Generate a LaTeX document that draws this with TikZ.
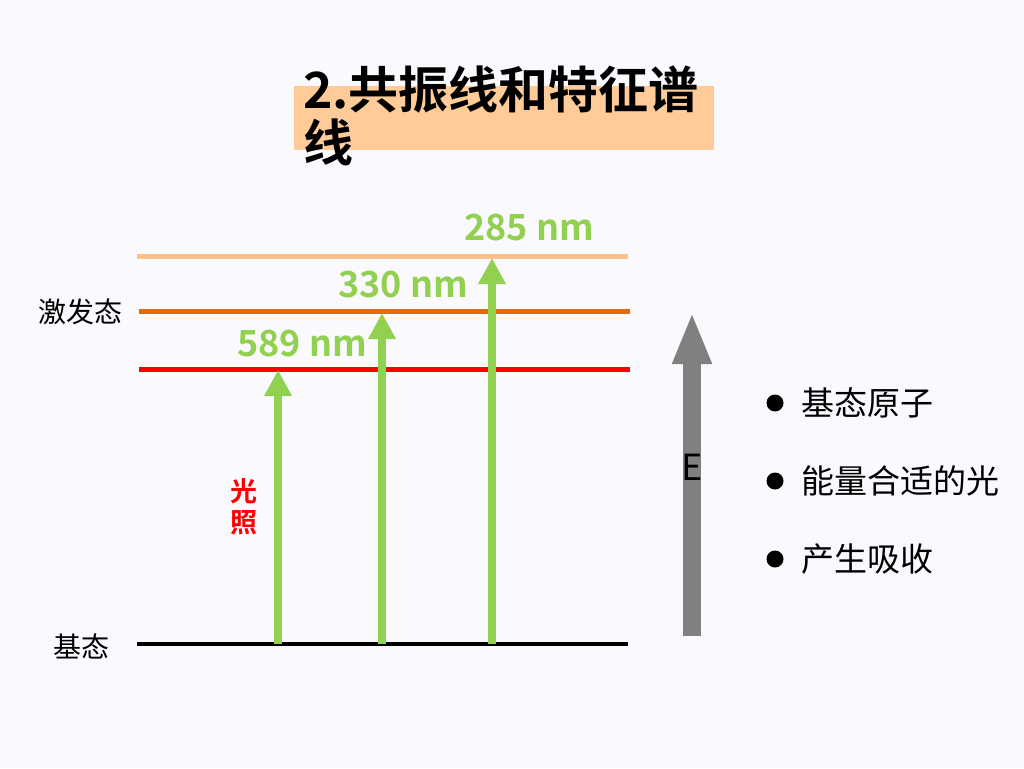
\documentclass[tikz,border=0pt]{standalone}
\usepackage{fontspec}
\setmainfont{Noto Sans CJK SC}
\newfontfamily\cjkb{Noto Sans CJK SC Bold}
\usetikzlibrary{arrows.meta}
\definecolor{bg}{HTML}{F9F9FE}
\definecolor{peach}{HTML}{FFCC99}
\definecolor{lpeach}{HTML}{FFC08C}
\definecolor{dorange}{HTML}{E36C09}
\definecolor{lgreen}{HTML}{92D050}
\tikzset{
  level/.style={line width=#1},
  garrow/.style={draw=lgreen, line width=8pt, -{Triangle[length=26pt,width=26pt]}},
  glabel/.style={text=lgreen, font=\cjkb\fontsize{36}{40}\selectfont, inner sep=0pt},
  lbl/.style={font=\fontsize{28}{32}\selectfont, inner sep=0pt},
  bul/.style={font=\fontsize{33}{38}\selectfont, inner sep=0pt, anchor=west},
  dot/.style={circle, fill=black, minimum size=17pt, inner sep=0pt},
}
\begin{document}
\begin{tikzpicture}[x=1pt,y=-1pt]
\fill[bg] (0,0) rectangle (1024,768);
\useasboundingbox (0,0) rectangle (1024,768);
% title
\fill[peach] (294,86) rectangle (714,150);
\node[anchor=base west, inner sep=0pt, font=\cjkb\fontsize{50}{56}\selectfont] (t1) at (303,108) {2.共振线和特征谱};
\node[anchor=base west, inner sep=0pt, font=\cjkb\fontsize{50}{56}\selectfont] (t2) at (303,161) {线};
% levels
\coordinate (l1a) at (137,256); \coordinate (l1b) at (628,256);
\coordinate (l2a) at (139,311); \coordinate (l2b) at (630,311);
\coordinate (l3a) at (139,369); \coordinate (l3b) at (630,369);
\coordinate (g0a) at (137,644); \coordinate (g0b) at (628,644);
\draw[lpeach, level=5pt] (l1a) -- (l1b);
\draw[dorange, level=5pt] (l2a) -- (l2b);
\draw[red, level=5pt] (l3a) -- (l3b);
\draw[black, level=4.5pt] (g0a) -- (g0b);
\node[lbl] (exc) at (80,312) {激发态};
\node[lbl] (gnd) at (81,646) {基态};
% arrows
\coordinate (a1s) at (278,644); \coordinate (a1t) at (278,370);
\coordinate (a2s) at (382,644); \coordinate (a2t) at (382,313);
\coordinate (a3s) at (492,644); \coordinate (a3t) at (492,258);
\draw[garrow] (a1s) -- (a1t);
\draw[garrow] (a2s) -- (a2t);
\draw[garrow] (a3s) -- (a3t);
\node[glabel] (n1) at (302,344) {589 nm};
\node[glabel] (n2) at (403,285) {330 nm};
\node[glabel] (n3) at (529,228) {285 nm};
\node[text=red, font=\cjkb\fontsize{27}{31}\selectfont, align=center, inner sep=0pt] (gz) at (244,507) {光\\照};
% energy arrow
\coordinate (es) at (692,636); \coordinate (et) at (692,312);
\draw[draw=gray, line width=18pt, -{Triangle[length=52pt,width=36pt]}] (es) -- (et);
\node[font=\fontsize{36}{40}\selectfont, inner sep=0pt] (E) at (692,467) {E};
% bullets
\node[dot] (d1) at (775,403) {};
\node[dot] (d2) at (775,481) {};
\node[dot] (d3) at (775,559) {};
\node[bul] (b1) at (801,403) {基态原子};
\node[bul] (b2) at (801,481) {能量合适的光};
\node[bul] (b3) at (801,559) {产生吸收};
\end{tikzpicture}
\end{document}
